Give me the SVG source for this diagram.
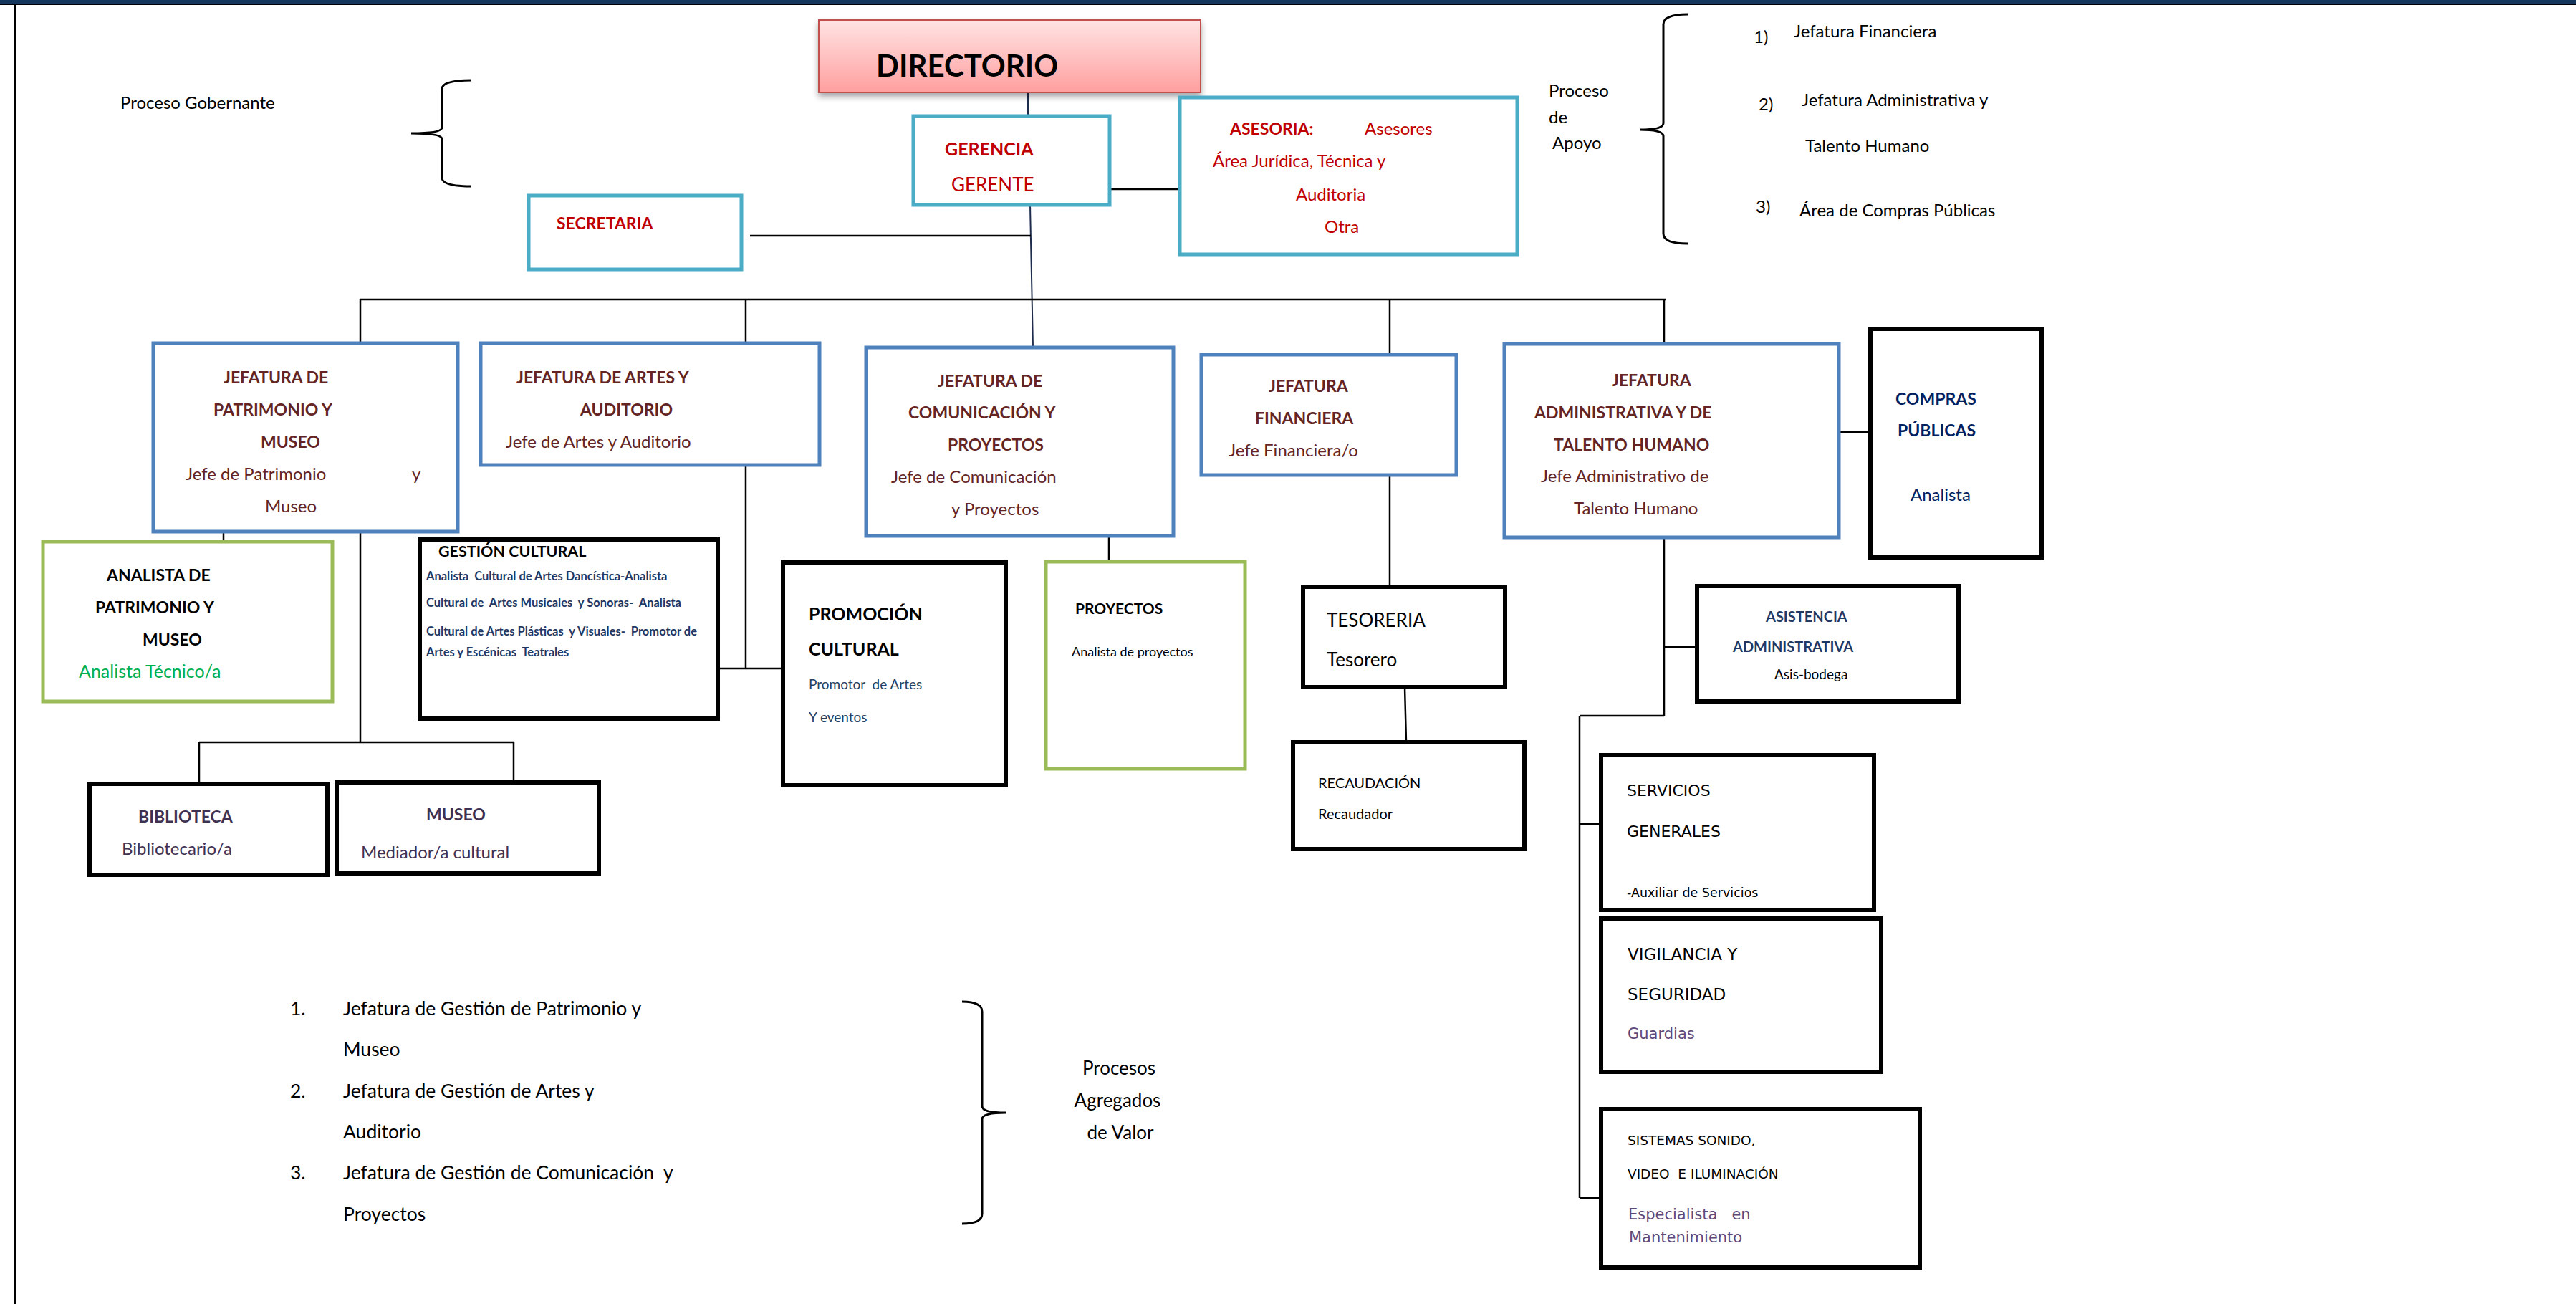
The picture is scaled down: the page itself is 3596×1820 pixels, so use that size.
<svg xmlns="http://www.w3.org/2000/svg" width="3596" height="1820" viewBox="0 0 3596 1820">
<defs>
<linearGradient id="gDir" x1="0" y1="0" x2="0" y2="1">
<stop offset="0" stop-color="#ffe3e3"/>
<stop offset="1" stop-color="#ff9f9f"/>
</linearGradient>
<filter id="shadow" x="-10%" y="-20%" width="120%" height="150%">
<feDropShadow dx="0" dy="5" stdDeviation="4" flood-color="#000" flood-opacity="0.35"/>
</filter>
<style>
text{font-family:Lato,"Liberation Sans",sans-serif;white-space:pre;}
.teal{fill:#fff;stroke:#4bacc6;stroke-width:5;}
.blue{fill:#fff;stroke:#4f81bd;stroke-width:5;}
.green{fill:#fff;stroke:#9bbb59;stroke-width:5;}
.blk{fill:#fff;stroke:#000;stroke-width:6;}
.ln{stroke:#000;stroke-width:2.5;fill:none;}
.lnn{stroke:#1f2d4d;stroke-width:2;fill:none;}
.br{stroke:#000;stroke-width:3;fill:none;}
.lbl{font-size:24px;fill:#000;}
.lst{font-size:26.5px;fill:#000;}
.red{fill:#c00000;}
.jb{font-size:23px;font-weight:bold;fill:#632423;}
.jr{font-size:24px;fill:#632423;}
.kb{font-size:23px;font-weight:bold;fill:#000;}
.nb{font-weight:bold;fill:#1f3864;}
.pur{fill:#3f3151;}
.dv{font-family:"DejaVu Sans","Liberation Sans",sans-serif;fill:#000;}
</style>
</defs>
<rect x="0" y="0" width="3596" height="1820" fill="#fff"/>
<rect x="0" y="0" width="3596" height="5" fill="#17365d"/>
<rect x="0" y="5" width="3596" height="2" fill="#000"/>
<line x1="21" y1="6" x2="21" y2="1820" stroke="#000" stroke-width="2.5"/>

<g id="legends">
<text class="lbl" x="168" y="152">Proceso Gobernante</text>
<path class="br" d="M658,112 Q617,112 617,124 L617,178 Q617,186 574,186 Q617,186 617,194 L617,248 Q617,260 658,260"/>
<text class="lbl" x="2162" y="135">Proceso</text>
<text class="lbl" x="2162" y="172">de</text>
<text class="lbl" x="2167" y="208">Apoyo</text>
<path class="br" d="M2356,20 Q2322,20 2322,34 L2322,172 Q2322,181 2289,181 Q2322,181 2322,190 L2322,326 Q2322,340 2356,340"/>
<text class="lbl" x="2448" y="60">1)</text>
<text class="lbl" x="2504" y="52">Jefatura Financiera</text>
<text class="lbl" x="2455" y="154">2)</text>
<text class="lbl" x="2515" y="148">Jefatura Administrativa y</text>
<text class="lbl" x="2520" y="212">Talento Humano</text>
<text class="lbl" x="2451" y="297">3)</text>
<text class="lbl" x="2512" y="302">Área de Compras Públicas</text>
<text class="lst" x="405" y="1417">1.</text>
<text class="lst" x="479" y="1417">Jefatura de Gestión de Patrimonio y</text>
<text class="lst" x="479" y="1474">Museo</text>
<text class="lst" x="405" y="1532">2.</text>
<text class="lst" x="479" y="1532">Jefatura de Gestión de Artes y</text>
<text class="lst" x="479" y="1589">Auditorio</text>
<text class="lst" x="405" y="1646">3.</text>
<text class="lst" x="479" y="1646">Jefatura de Gestión de Comunicación  y</text>
<text class="lst" x="479" y="1704">Proyectos</text>
<path class="br" d="M1343,1398 Q1371,1398 1371,1412 L1371,1544 Q1371,1553 1404,1553 Q1371,1553 1371,1562 L1371,1694 Q1371,1708 1343,1708"/>
<text class="lbl" x="1562" y="1500" text-anchor="middle" style="font-size:26px">Procesos</text>
<text class="lbl" x="1560" y="1545" text-anchor="middle" style="font-size:26px">Agregados</text>
<text class="lbl" x="1564" y="1590" text-anchor="middle" style="font-size:26px">de Valor</text>
</g>

<g id="connectors">
<line class="lnn" x1="1435" y1="129" x2="1435" y2="162"/>
<line class="lnn" x1="1438" y1="286" x2="1442" y2="485"/>
<line class="ln" x1="1549" y1="264" x2="1647" y2="264"/>
<line class="ln" x1="1047" y1="329" x2="1439" y2="329"/>
<line class="ln" x1="503" y1="418" x2="2326" y2="418"/>
<line class="ln" x1="503" y1="418" x2="503" y2="479"/>
<line class="ln" x1="1041" y1="418" x2="1041" y2="479"/>
<line class="ln" x1="1940" y1="418" x2="1940" y2="495"/>
<line class="ln" x1="2323" y1="418" x2="2323" y2="480"/>
<line class="ln" x1="312" y1="742" x2="312" y2="756"/>
<line class="ln" x1="503" y1="742" x2="503" y2="1036"/>
<line class="ln" x1="278" y1="1036" x2="717" y2="1036"/>
<line class="ln" x1="278" y1="1036" x2="278" y2="1094"/>
<line class="ln" x1="717" y1="1036" x2="717" y2="1092"/>
<line class="ln" x1="1041" y1="649" x2="1041" y2="933"/>
<line class="ln" x1="1003" y1="933" x2="1093" y2="933"/>
<line class="ln" x1="1548" y1="748" x2="1548" y2="784"/>
<line class="ln" x1="1940" y1="663" x2="1940" y2="819"/>
<line class="ln" x1="1961" y1="959" x2="1963" y2="1036"/>
<line class="ln" x1="2567" y1="603" x2="2611" y2="603"/>
<line class="ln" x1="2323" y1="750" x2="2323" y2="999"/>
<line class="ln" x1="2323" y1="903" x2="2369" y2="903"/>
<line class="ln" x1="2205" y1="999" x2="2323" y2="999"/>
<line class="ln" x1="2205" y1="999" x2="2205" y2="1672"/>
<line class="ln" x1="2205" y1="1150" x2="2245" y2="1150"/>
<line class="ln" x1="2205" y1="1672" x2="2235" y2="1672"/>
</g>

<g id="directorio">
<rect x="1143" y="28" width="533" height="101" fill="url(#gDir)" stroke="#c0504d" stroke-width="2" filter="url(#shadow)"/>
<text x="1223" y="107" style="font-size:42px;font-weight:bold;fill:#000">DIRECTORIO</text>
</g>
<g id="gerencia">
<rect class="teal" x="1275" y="162" width="274" height="124"/>
<text class="red" x="1319" y="217" style="font-size:25px;font-weight:bold">GERENCIA</text>
<text class="red" x="1328" y="267" style="font-size:26px">GERENTE</text>
</g>
<g id="secretaria">
<rect class="teal" x="738" y="273" width="297" height="103"/>
<text class="red" x="777" y="320" style="font-size:23px;font-weight:bold">SECRETARIA</text>
</g>
<g id="asesoria">
<rect class="teal" x="1647" y="136" width="471" height="219"/>
<text class="red" x="1717" y="188" style="font-size:23px;font-weight:bold">ASESORIA:</text>
<text class="red" x="1905" y="188" style="font-size:24px">Asesores</text>
<text class="red" x="1693" y="233" style="font-size:24px">Área Jurídica, Técnica y</text>
<text class="red" x="1809" y="280" style="font-size:24px">Auditoria</text>
<text class="red" x="1849" y="325" style="font-size:24px">Otra</text>
</g>
<g id="jef-patrimonio">
<rect class="blue" x="214" y="479" width="425" height="263"/>
<text class="jb" x="312" y="535">JEFATURA DE</text>
<text class="jb" x="298" y="580">PATRIMONIO Y</text>
<text class="jb" x="364" y="625">MUSEO</text>
<text class="jr" x="259" y="670">Jefe de Patrimonio</text>
<text class="jr" x="575" y="670">y</text>
<text class="jr" x="370" y="715">Museo</text>
</g>
<g id="jef-artes">
<rect class="blue" x="671" y="479" width="473" height="170"/>
<text class="jb" x="721" y="535">JEFATURA DE ARTES Y</text>
<text class="jb" x="810" y="580">AUDITORIO</text>
<text class="jr" x="706" y="625">Jefe de Artes y Auditorio</text>
</g>
<g id="jef-comunicacion">
<rect class="blue" x="1209" y="485" width="429" height="263"/>
<text class="jb" x="1309" y="540">JEFATURA DE</text>
<text class="jb" x="1268" y="584">COMUNICACIÓN Y</text>
<text class="jb" x="1323" y="629">PROYECTOS</text>
<text class="jr" x="1244" y="674">Jefe de Comunicación</text>
<text class="jr" x="1328" y="719">y Proyectos</text>
</g>
<g id="jef-financiera">
<rect class="blue" x="1677" y="495" width="356" height="168"/>
<text class="jb" x="1771" y="547">JEFATURA</text>
<text class="jb" x="1752" y="592">FINANCIERA</text>
<text class="jr" x="1715" y="637">Jefe Financiera/o</text>
</g>
<g id="jef-administrativa">
<rect class="blue" x="2100" y="480" width="467" height="270"/>
<text class="jb" x="2250" y="539">JEFATURA</text>
<text class="jb" x="2142" y="584">ADMINISTRATIVA Y DE</text>
<text class="jb" x="2169" y="629">TALENTO HUMANO</text>
<text class="jr" x="2151" y="673">Jefe Administrativo de</text>
<text class="jr" x="2197" y="718">Talento Humano</text>
</g>
<g id="compras">
<rect class="blk" x="2611" y="459" width="239" height="319"/>
<text x="2646" y="565" style="font-size:23px;font-weight:bold;fill:#002060">COMPRAS</text>
<text x="2649" y="609" style="font-size:23px;font-weight:bold;fill:#002060">PÚBLICAS</text>
<text x="2667" y="699" style="font-size:24px;fill:#002060">Analista</text>
</g>
<g id="asistencia">
<rect class="blk" x="2369" y="818" width="365" height="161"/>
<text class="nb" x="2465" y="868" style="font-size:20px">ASISTENCIA</text>
<text class="nb" x="2419" y="910" style="font-size:20px">ADMINISTRATIVA</text>
<text x="2477" y="948" style="font-size:19px;fill:#000">Asis-bodega</text>
</g>
<g id="analista-patrimonio">
<rect class="green" x="60" y="756" width="404" height="223"/>
<text class="kb" x="149" y="811">ANALISTA DE</text>
<text class="kb" x="133" y="856">PATRIMONIO Y</text>
<text class="kb" x="199" y="901">MUSEO</text>
<text x="110" y="946" style="font-size:25px;fill:#00b050">Analista Técnico/a</text>
</g>
<g id="gestion-cultural">
<rect class="blk" x="586" y="753" width="416" height="250"/>
<text x="612" y="777" style="font-size:21.5px;font-weight:bold;fill:#000">GESTIÓN CULTURAL</text>
<text class="nb" x="595" y="810" style="font-size:16.5px">Analista  Cultural de Artes Dancística-Analista</text>
<text class="nb" x="595" y="847" style="font-size:16.5px">Cultural de  Artes Musicales  y Sonoras-  Analista</text>
<text class="nb" x="595" y="887" style="font-size:16.5px">Cultural de Artes Plásticas  y Visuales-  Promotor de</text>
<text class="nb" x="595" y="916" style="font-size:16.5px">Artes y Escénicas  Teatrales</text>
</g>
<g id="biblioteca">
<rect class="blk" x="125" y="1094" width="332" height="127"/>
<text class="pur" x="193" y="1148" style="font-size:23px;font-weight:bold">BIBLIOTECA</text>
<text class="pur" x="170" y="1193" style="font-size:24px">Bibliotecario/a</text>
</g>
<g id="museo">
<rect class="blk" x="470" y="1092" width="366" height="127"/>
<text class="pur" x="595" y="1145" style="font-size:23px;font-weight:bold">MUSEO</text>
<text class="pur" x="504" y="1198" style="font-size:24px">Mediador/a cultural</text>
</g>
<g id="promocion">
<rect class="blk" x="1093" y="785" width="311" height="311"/>
<text x="1129" y="866" style="font-size:25px;font-weight:bold;fill:#000">PROMOCIÓN</text>
<text x="1129" y="915" style="font-size:25px;font-weight:bold;fill:#000">CULTURAL</text>
<text x="1129" y="962" style="font-size:19px;fill:#243f60">Promotor  de Artes</text>
<text x="1129" y="1008" style="font-size:19px;fill:#243f60">Y eventos</text>
</g>
<g id="proyectos">
<rect class="green" x="1460" y="784" width="278" height="289"/>
<text x="1501" y="857" style="font-size:21px;font-weight:bold;fill:#000">PROYECTOS</text>
<text x="1496" y="916" style="font-size:18px;fill:#000">Analista de proyectos</text>
</g>
<g id="tesoreria">
<rect class="blk" x="1819" y="819" width="282" height="140"/>
<text x="1852" y="875" style="font-size:26px;fill:#000">TESORERIA</text>
<text x="1852" y="930" style="font-size:26px;fill:#000">Tesorero</text>
</g>
<g id="recaudacion">
<rect class="blk" x="1805" y="1036" width="323" height="149"/>
<text x="1840" y="1100" style="font-size:20px;fill:#000">RECAUDACIÓN</text>
<text x="1840" y="1143" style="font-size:20px;fill:#000">Recaudador</text>
</g>
<g id="servicios">
<rect class="blk" x="2235" y="1054" width="381" height="216"/>
<text class="dv" x="2271" y="1111" style="font-size:22px">SERVICIOS</text>
<text class="dv" x="2271" y="1168" style="font-size:22px">GENERALES</text>
<text class="dv" x="2271" y="1252" style="font-size:17.5px">-Auxiliar de Servicios</text>
</g>
<g id="vigilancia">
<rect class="blk" x="2235" y="1282" width="391" height="214"/>
<text class="dv" x="2272" y="1340" style="font-size:23px">VIGILANCIA Y</text>
<text class="dv" x="2272" y="1396" style="font-size:23px">SEGURIDAD</text>
<text class="dv" x="2272" y="1450" style="font-size:21px;fill:#5f497a">Guardias</text>
</g>
<g id="sistemas">
<rect class="blk" x="2235" y="1548" width="445" height="221"/>
<text class="dv" x="2272" y="1598" style="font-size:18.5px">SISTEMAS SONIDO,</text>
<text class="dv" x="2272" y="1645" style="font-size:18.5px">VIDEO  E ILUMINACIÓN</text>
<text class="dv" x="2273" y="1702" style="font-size:21px;fill:#5f497a">Especialista   en</text>
<text class="dv" x="2274" y="1734" style="font-size:21px;fill:#5f497a">Mantenimiento</text>
</g>
</svg>
